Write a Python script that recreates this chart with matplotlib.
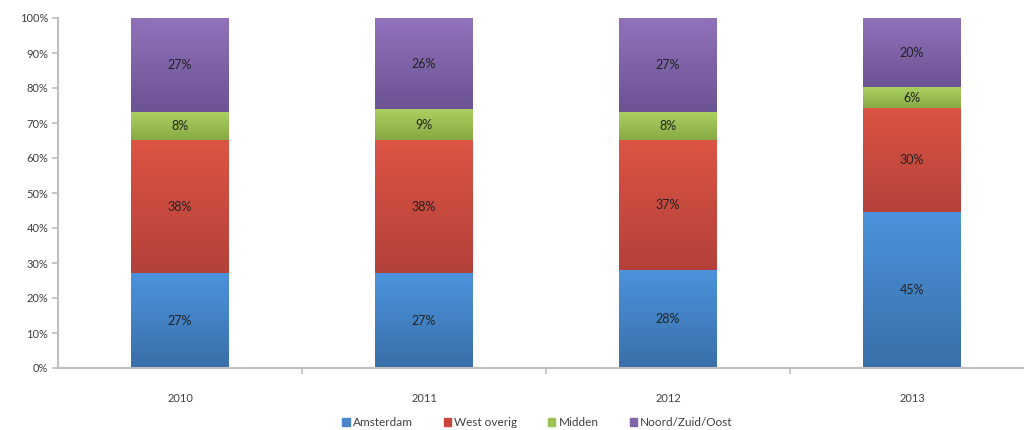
import numpy as np
from matplotlib import pyplot as plt
from matplotlib.colors import LinearSegmentedColormap

years = ["2010", "2011", "2012", "2013"]
regions = ["Amsterdam", "West overig", "Midden", "Noord/Zuid/Oost"]
amsterdam = [27, 27, 28, 45]
west_overig = [38, 38, 37, 30]
midden = [8, 9, 8, 6]
noord_zuid_oost = [27, 26, 27, 20]

# (top colour, bottom colour) per series, mimics the old Excel gradient fill
gradients = [("#4b93dc", "#3a6fa9"),
             ("#dc5444", "#b3413a"),
             ("#abd061", "#88a944"),
             ("#9172bb", "#6c5393")]
legend_colors = ["#4a86c8", "#c9463f", "#9cc253", "#8264a8"]


def gradient_fill(ax, patch, top, bottom):
    cmap = LinearSegmentedColormap.from_list("g", [bottom, top])
    x0, y0 = patch.get_x(), patch.get_y()
    w, h = patch.get_width(), patch.get_height()
    grad = np.linspace(0, 1, 100).reshape(-1, 1)
    ax.imshow(grad, cmap=cmap, origin="lower", aspect="auto",
              extent=[x0, x0 + w, y0, y0 + h], zorder=2,
              interpolation="bilinear")


def main():
    plt.rcParams['font.family'] = ['Lato', 'DejaVu Sans']
    fig = plt.figure(figsize=(10.24, 4.3), dpi=100)
    ax = fig.add_axes([58 / 1024, 62 / 430, 976 / 1024, 350 / 430])

    data = np.array([amsterdam, west_overig, midden, noord_zuid_oost], dtype=float)
    shares = data / data.sum(axis=0) * 100
    x = np.arange(len(years))
    bottom = np.zeros(len(years))
    for i, name in enumerate(regions):
        bars = ax.bar(x, shares[i], 0.4, bottom=bottom, color="none",
                      edgecolor="none", zorder=1)
        for j, b in enumerate(bars):
            gradient_fill(ax, b, *gradients[i])
            ax.text(x[j], bottom[j] + shares[i][j] / 2, f"{data[i][j]:.0f}%",
                    ha="center", va="center", fontsize=9, color="#222222",
                    zorder=3)
        bottom += shares[i]

    ax.set_xlim(-0.5, 3.5)
    ax.set_ylim(0, 100)
    ax.set_yticks(range(0, 101, 10))
    ax.set_yticklabels([f"{v}%" for v in range(0, 101, 10)], fontsize=8,
                       color="#404040")
    ax.set_xticks(x)
    ax.set_xticklabels(years, fontsize=8, color="#404040")
    ax.tick_params(axis="x", length=0, pad=18)
    ax.set_xticks(np.arange(0.5, 3.5, 1), minor=True)
    ax.tick_params(axis="x", which="minor", length=4, color="#bfbfbf",
                   width=1.2)
    ax.tick_params(axis="y", length=4, color="#bfbfbf", width=1.2, pad=3)
    for s in ["top", "right"]:
        ax.spines[s].set_visible(False)
    for s in ["left", "bottom"]:
        ax.spines[s].set_color("#bfbfbf")
        ax.spines[s].set_linewidth(1.5)
        ax.spines[s].set_zorder(4)

    handles = [plt.Rectangle((0, 0), 1, 1, color=c) for c in legend_colors]
    fig.legend(handles, regions, loc="center", bbox_to_anchor=(0.525, 0.017),
               ncol=4, frameon=False, fontsize=8.5, handlelength=0.6,
               handleheight=0.6, handletextpad=0.3, columnspacing=2.6,
               labelcolor="#404040")

    fig.savefig("out.png", dpi=100)


if __name__ == "__main__":
    main()
